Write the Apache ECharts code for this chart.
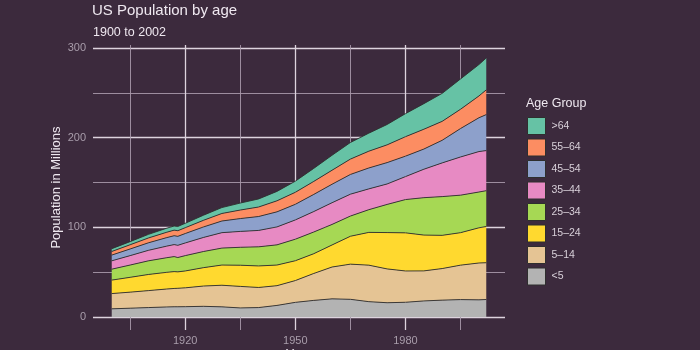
<!DOCTYPE html>
<html lang="en">
<head>
    <meta charset="utf-8">
    <title>US Population by age</title>
    <script src="https://cdn.jsdelivr.net/npm/echarts@6/dist/echarts.min.js"></script>
</head>
<body style="margin:0;background:#3c2a3d;">
    <div id="main" style="width:700px;height:350px;"></div>
    <script type="text/javascript">
    // population by age group, millions
    var years     = [1900, 1905, 1910, 1915, 1917, 1918, 1920, 1925, 1930, 1935, 1940, 1945, 1950, 1955, 1960, 1965, 1970, 1975, 1980, 1985, 1990, 1995, 2000, 2002];
    var under5    = [9.2, 9.9, 10.6, 11.3, 11.5, 11.5, 11.6, 12.0, 11.4, 10.2, 10.6, 13.0, 16.4, 18.6, 20.3, 19.8, 17.2, 16.0, 16.5, 18.0, 18.9, 19.5, 19.2, 19.6];
    var age5to14  = [17.0, 17.9, 18.9, 20.0, 20.4, 20.6, 21.0, 22.6, 24.1, 24.0, 22.4, 22.0, 24.3, 30.0, 35.5, 39.2, 40.7, 37.7, 34.9, 33.5, 35.2, 38.4, 41.1, 41.0];
    var age15to24 = [15.0, 16.5, 18.0, 18.6, 18.8, 18.3, 18.8, 20.5, 22.5, 23.6, 24.0, 23.0, 22.1, 22.0, 24.6, 31.1, 36.5, 40.5, 42.5, 39.9, 37.0, 36.2, 39.2, 40.4];
    var age25to34 = [12.2, 13.7, 15.2, 16.3, 16.7, 16.0, 17.1, 18.0, 18.9, 20.0, 21.3, 22.5, 24.0, 24.2, 22.9, 22.5, 25.3, 31.4, 37.1, 41.7, 43.2, 41.8, 39.9, 39.9];
    var age35to44 = [9.3, 10.5, 11.7, 12.9, 13.4, 13.6, 14.1, 15.7, 17.2, 17.7, 18.3, 20.0, 21.5, 22.8, 24.2, 24.4, 23.2, 22.8, 25.6, 31.7, 37.6, 42.6, 45.1, 44.7];
    var age45to54 = [6.4, 7.4, 8.4, 9.5, 9.9, 10.0, 10.5, 11.7, 13.0, 14.3, 15.5, 16.8, 17.4, 19.1, 20.6, 22.0, 23.3, 23.8, 22.8, 22.5, 25.2, 31.7, 37.7, 40.1];
    var age55to64 = [4.0, 4.7, 5.4, 6.0, 6.2, 6.3, 6.5, 7.4, 8.4, 9.5, 10.6, 12.3, 13.4, 14.5, 15.6, 17.1, 18.7, 19.8, 21.7, 22.1, 21.1, 21.5, 24.3, 27.6];
    var over64    = [3.1, 3.5, 4.0, 4.5, 4.6, 4.7, 4.9, 5.7, 6.6, 7.8, 9.0, 10.5, 12.4, 14.5, 16.7, 18.5, 20.1, 22.7, 25.7, 28.5, 31.2, 33.8, 35.0, 35.6];

    // bottom to top
    var groupNames  = ['<5', '5\u201314', '15\u201324', '25\u201334', '35\u201344', '45\u201354', '55\u201364', '>64'];
    var groupValues = [under5, age5to14, age15to24, age25to34, age35to44, age45to54, age55to64, over64];
    var groupColors = ['#b3b3b3', '#e5c494', '#ffd92f', '#a6d854', '#e78ac3', '#8da0cb', '#fc8d62', '#66c2a5'];

    var xMajor = [1920, 1950, 1980];
    var xMinor = [1905, 1935, 1965, 1995];
    var yMajor = [0, 100, 200, 300];
    var yMinor = [50, 150, 250];

    var majorLine = { color: '#ddd3de', width: 1.3 };
    var minorLine = { color: '#a898aa', width: 0.9 };
    var fontName = '"Liberation Sans", Arial, sans-serif';

    // value first, year second, so the stack runs on the y dimension
    var series = groupNames.map(function (name, k) {
        return {
            name: name,
            type: 'line',
            stack: 'pop',
            symbol: 'none',
            smooth: false,
            xAxisIndex: 0,
            yAxisIndex: 0,
            encode: { x: 1, y: 0 },
            lineStyle: { color: '#2e2e2e', width: 0.9 },
            itemStyle: { color: groupColors[k], borderColor: '#2e2e2e', borderWidth: 1 },
            areaStyle: { color: groupColors[k], opacity: 1 },
            data: years.map(function (y, i) { return [groupValues[k][i], y]; })
        };
    });

    var myChart = echarts.init(document.getElementById('main'));
    myChart.setOption({
        backgroundColor: '#3c2a3d',
        animation: false,
        textStyle: { fontFamily: fontName },
        title: [
            { text: 'US Population by age', left: 92, top: 3, padding: 0,
              textStyle: { color: '#efe8f0', fontSize: 15, fontWeight: 'normal', fontFamily: fontName } },
            { text: '1900 to 2002', left: 93, top: 26, padding: 0,
              textStyle: { color: '#efe8f0', fontSize: 12.5, fontWeight: 'normal', fontFamily: fontName } }
        ],
        graphic: [{
            type: 'text', left: 526, top: 97,
            style: { text: 'Age Group', fill: '#efe8f0', fontSize: 12.5, fontFamily: fontName }
        }],
        legend: {
            orient: 'vertical',
            left: 527,
            top: 117,
            padding: 0,
            itemWidth: 18,
            itemHeight: 17,
            itemGap: 3.5,
            icon: 'rect',
            data: groupNames.slice().reverse(),
            itemStyle: { borderColor: '#2e2e2e', borderWidth: 1 },
            textStyle: { color: '#d8d0d9', fontSize: 10.5, fontFamily: fontName, padding: [0, 0, 0, 1] }
        },
        grid: { left: 93, right: 195, top: 45, bottom: 20, containLabel: false, outerBoundsMode: 'none' },
        xAxis: [{
            type: 'value',
            min: 1894.9,
            max: 2007.1,
            name: 'Year',
            nameLocation: 'middle',
            nameGap: 18,
            nameMoveOverlap: false,
            nameTextStyle: { color: '#efe8f0', fontSize: 13, verticalAlign: 'top' },
            axisLine: { show: false },
            axisTick: { show: false, customValues: xMajor },
            axisLabel: { color: '#a99dab', fontSize: 11, margin: 5, customValues: xMajor,
                         formatter: function (v) { return String(v); } },
            splitLine: { show: true, lineStyle: majorLine }
        }, {
            type: 'value',
            min: 1894.9,
            max: 2007.1,
            position: 'bottom',
            axisLine: { show: false },
            axisTick: { show: false, customValues: xMinor },
            axisLabel: { show: false, customValues: xMinor },
            splitLine: { show: true, lineStyle: minorLine }
        }],
        yAxis: [{
            type: 'value',
            min: -14.4,
            max: 303.3,
            name: 'Population in Millions',
            nameLocation: 'middle',
            nameGap: 30,
            nameMoveOverlap: false,
            nameTextStyle: { color: '#efe8f0', fontSize: 13 },
            axisLine: { show: false },
            axisTick: { show: false, customValues: yMajor },
            axisLabel: { color: '#a99dab', fontSize: 11, margin: 7, customValues: yMajor },
            splitLine: { show: true, lineStyle: majorLine }
        }, {
            type: 'value',
            min: -14.4,
            max: 303.3,
            position: 'left',
            axisLine: { show: false },
            axisTick: { show: false, customValues: yMinor },
            axisLabel: { show: false, customValues: yMinor },
            splitLine: { show: true, lineStyle: minorLine }
        }],
        series: series
    });
    </script>
</body>
</html>
